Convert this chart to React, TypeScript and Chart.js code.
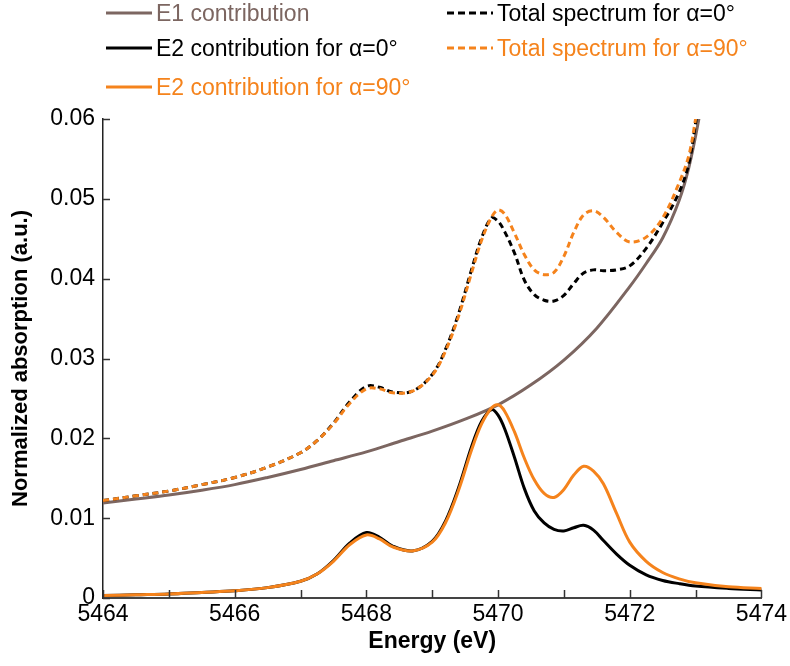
import React, { useEffect, useRef } from "react";
import { Chart, registerables } from "chart.js";

Chart.register(...registerables);

// ---------- data ----------
const e1Energy = [
  5464, 5464.5, 5465, 5465.5, 5466, 5466.5, 5467, 5467.5, 5468, 5468.5, 5469, 5469.5,
  5470, 5470.5, 5471, 5471.5, 5472, 5472.25, 5472.5, 5472.75, 5472.9, 5473.05, 5473.15,
];
const e1Values = [
  0.0119, 0.0124, 0.0129, 0.0135, 0.0142, 0.0151, 0.0161, 0.0172, 0.0183, 0.0196, 0.0209, 0.0224,
  0.0242, 0.0267, 0.0298, 0.0338, 0.039, 0.0419, 0.0451, 0.0498, 0.054, 0.06, 0.065,
];

const e2Energy = [
  5464, 5464.5, 5465, 5465.5, 5466, 5466.5, 5467, 5467.25, 5467.5, 5467.75, 5468, 5468.2,
  5468.4, 5468.7, 5469, 5469.2, 5469.4, 5469.6, 5469.75, 5469.9, 5470, 5470.1, 5470.25,
  5470.4, 5470.55, 5470.7, 5470.85, 5471, 5471.15, 5471.3, 5471.45, 5471.6, 5471.8, 5472,
  5472.25, 5472.5, 5472.75, 5473, 5473.5, 5474,
];
const e2Alpha0 = [
  0.0003, 0.0004, 0.0005, 0.0007, 0.0009, 0.0013, 0.0021, 0.003, 0.0047, 0.0069, 0.0082, 0.0076,
  0.0065, 0.0059, 0.0071, 0.0096, 0.0138, 0.019, 0.0221, 0.0236, 0.0229, 0.0212, 0.0176,
  0.0137, 0.0109, 0.0094, 0.0086, 0.0084, 0.0088, 0.0091, 0.0085, 0.0072, 0.0055, 0.0041,
  0.0029, 0.0022, 0.0018, 0.0015, 0.0012, 0.001,
];
const e2Alpha90 = [
  0.0003, 0.0004, 0.0005, 0.0007, 0.0009, 0.0013, 0.0021, 0.003, 0.0046, 0.0067, 0.0079, 0.0074,
  0.0064, 0.0059, 0.007, 0.0094, 0.0135, 0.0186, 0.0218, 0.0238, 0.0242, 0.0234, 0.0208,
  0.0175, 0.0148, 0.0131, 0.0126, 0.0136, 0.0154, 0.0165, 0.0159, 0.0143, 0.0106, 0.007,
  0.0046, 0.0032, 0.0024, 0.0019, 0.0014, 0.0012,
];

const totalEnergy = [
  5464, 5464.5, 5465, 5465.5, 5466, 5466.5, 5467, 5467.25, 5467.5, 5467.75, 5468, 5468.2,
  5468.4, 5468.7, 5469, 5469.2, 5469.4, 5469.6, 5469.75, 5469.9, 5470, 5470.1, 5470.25,
  5470.4, 5470.55, 5470.7, 5470.85, 5471, 5471.15, 5471.3, 5471.45, 5471.6, 5471.8, 5472,
  5472.25, 5472.5, 5472.75, 5472.9, 5473, 5473.1,
];
const totalAlpha0 = [
  0.0122, 0.0128, 0.0134, 0.0142, 0.0151, 0.0164, 0.0182, 0.0197, 0.0219, 0.0246, 0.0265, 0.0264,
  0.0258, 0.0259, 0.028, 0.0311, 0.0356, 0.0412, 0.0451, 0.0476, 0.0472, 0.0459, 0.0432,
  0.0398, 0.038, 0.0373, 0.0372, 0.0379, 0.0394, 0.0407, 0.0411, 0.041, 0.0411, 0.0416,
  0.0438, 0.047, 0.0508, 0.0545, 0.0595, 0.065,
];
const totalAlpha90 = [
  0.0122, 0.0128, 0.0134, 0.0142, 0.0151, 0.0164, 0.0182, 0.0197, 0.0218, 0.0244, 0.0262, 0.0262,
  0.0257, 0.0259, 0.0279, 0.0309, 0.0353, 0.0408, 0.0448, 0.0477, 0.0486, 0.0481, 0.0457,
  0.043, 0.0411, 0.0405, 0.0408, 0.0428, 0.0458, 0.048, 0.0485, 0.0477, 0.0458, 0.0446,
  0.0452, 0.0476, 0.052, 0.0555, 0.06, 0.065,
];

const xTickLabels = ["5464", "5466", "5468", "5470", "5472", "5474"];
const yTickLabels = ["0", "0.01", "0.02", "0.03", "0.04", "0.05", "0.06"];

const seriesLabels = {
  e1: "E1 contribution",
  e2a0: "E2 contribution for α=0°",
  e2a90: "E2 contribution for α=90°",
  ta0: "Total spectrum for α=0°",
  ta90: "Total spectrum for α=90°",
};

// ---------- styles ----------
const BROWN = "#7c6661";
const ORANGE = "#f5831c";
const BLACK = "#000000";
const FONT = "'Liberation Sans', Arial, Helvetica, sans-serif";

const toPoints = (xs: number[], ys: number[]) => xs.map((x, i) => ({ x, y: ys[i] }));

const inwardTicks = {
  id: "inwardTicks",
  afterDatasetsDraw(chart: any) {
    const { ctx, chartArea } = chart;
    const xs = chart.scales.x;
    const ys = chart.scales.y;
    ctx.save();
    ctx.strokeStyle = "#333";
    ctx.lineWidth = 1.5;
    xs.ticks.forEach((t: any) => {
      const px = Math.round(xs.getPixelForValue(t.value)) + 0.5;
      ctx.beginPath();
      ctx.moveTo(px, chartArea.bottom);
      ctx.lineTo(px, chartArea.bottom - 8);
      ctx.stroke();
    });
    ys.ticks.forEach((t: any) => {
      const py = Math.round(ys.getPixelForValue(t.value)) + 0.5;
      ctx.beginPath();
      ctx.moveTo(chartArea.left, py);
      ctx.lineTo(chartArea.left + 7, py);
      ctx.stroke();
    });
    ctx.restore();
  },
};

function LegendItem(props: { x: number; y: number; color: string; dashed?: boolean; text: string }) {
  const { x, y, color, dashed, text } = props;
  return (
    <div
      style={{
        position: "absolute",
        left: x,
        top: y - 14,
        height: 28,
        display: "flex",
        alignItems: "center",
        whiteSpace: "nowrap",
        fontFamily: FONT,
        fontSize: 23,
        color,
      }}
    >
      <svg width={46} height={6} style={{ marginRight: 4, display: "block" }}>
        <line
          x1={0}
          y1={3}
          x2={46}
          y2={3}
          stroke={color}
          strokeWidth={3}
          strokeDasharray={dashed ? "7 4" : undefined}
        />
      </svg>
      <span>{text}</span>
    </div>
  );
}

export default function App() {
  const canvasRef = useRef<HTMLCanvasElement | null>(null);

  useEffect(() => {
    if (!canvasRef.current) return;
    const common = {
      fill: false,
      pointRadius: 0,
      tension: 0.35,
      clip: { left: 0, top: 0, right: 5, bottom: 5 },
    };
    const chart = new Chart(canvasRef.current, {
      type: "line",
      data: {
        datasets: [
          {
            ...common,
            label: seriesLabels.ta90,
            data: toPoints(totalEnergy, totalAlpha90),
            borderColor: ORANGE,
            borderWidth: 3,
            borderDash: [6, 4],
          },
          {
            ...common,
            label: seriesLabels.ta0,
            data: toPoints(totalEnergy, totalAlpha0),
            borderColor: BLACK,
            borderWidth: 3,
            borderDash: [6, 4],
          },
          {
            ...common,
            label: seriesLabels.e2a90,
            data: toPoints(e2Energy, e2Alpha90),
            borderColor: ORANGE,
            borderWidth: 3,
          },
          {
            ...common,
            label: seriesLabels.e2a0,
            data: toPoints(e2Energy, e2Alpha0),
            borderColor: BLACK,
            borderWidth: 3,
          },
          {
            ...common,
            label: seriesLabels.e1,
            data: toPoints(e1Energy, e1Values),
            borderColor: BROWN,
            borderWidth: 3,
          },
        ],
      },
      options: {
        animation: false,
        responsive: false,
        maintainAspectRatio: false,
        layout: { padding: { top: 119, right: 27, left: 0, bottom: 0 } },
        plugins: { legend: { display: false }, tooltip: { enabled: false } },
        scales: {
          x: {
            type: "linear",
            min: 5464,
            max: 5474,
            afterFit: (s: any) => {
              s.height = 68;
            },
            grid: { display: false, drawTicks: false },
            border: { display: true, color: "#444", width: 2 },
            ticks: {
              stepSize: 1,
              autoSkip: false,
              maxRotation: 0,
              padding: 3,
              color: "#000",
              font: { family: FONT, size: 23 },
              callback: (v: any) => {
                const s = String(Math.round(Number(v) * 1000) / 1000);
                return xTickLabels.includes(s) ? s : "";
              },
            },
            title: {
              display: true,
              text: "Energy (eV)",
              color: "#000",
              font: { family: FONT, size: 23, weight: "bold" },
              padding: { top: 0, bottom: 11 },
            },
          },
          y: {
            type: "linear",
            min: 0,
            max: 0.06,
            afterFit: (s: any) => {
              s.width = 103;
            },
            grid: { display: false, drawTicks: false },
            border: { display: true, color: "#222", width: 1.5 },
            ticks: {
              stepSize: 0.01,
              padding: 8,
              color: "#000",
              font: { family: FONT, size: 23 },
              callback: (v: any) => {
                const s = String(Math.round(Number(v) * 100) / 100);
                return yTickLabels.includes(s) ? s : "";
              },
            },
            title: {
              display: true,
              text: "Normalized absorption (a.u.)",
              color: "#000",
              font: { family: FONT, size: 22, weight: "bold" },
              padding: { top: 8, bottom: 0 },
            },
          },
        },
      },
      plugins: [inwardTicks],
    });
    return () => chart.destroy();
  }, []);

  return (
    <div
      style={{
        position: "absolute",
        left: 0,
        top: 0,
        width: 790,
        height: 666,
        background: "#fff",
        overflow: "hidden",
      }}
    >
      <canvas
        ref={canvasRef}
        width={790}
        height={666}
        style={{ position: "absolute", left: 0, top: 0, width: 790, height: 666 }}
      />
      <LegendItem x={106} y={13} color={BROWN} text={seriesLabels.e1} />
      <LegendItem x={106} y={48} color={BLACK} text={seriesLabels.e2a0} />
      <LegendItem x={106} y={87} color={ORANGE} text={seriesLabels.e2a90} />
      <LegendItem x={447} y={13} color={BLACK} dashed text={seriesLabels.ta0} />
      <LegendItem x={447} y={48} color={ORANGE} dashed text={seriesLabels.ta90} />
    </div>
  );
}
